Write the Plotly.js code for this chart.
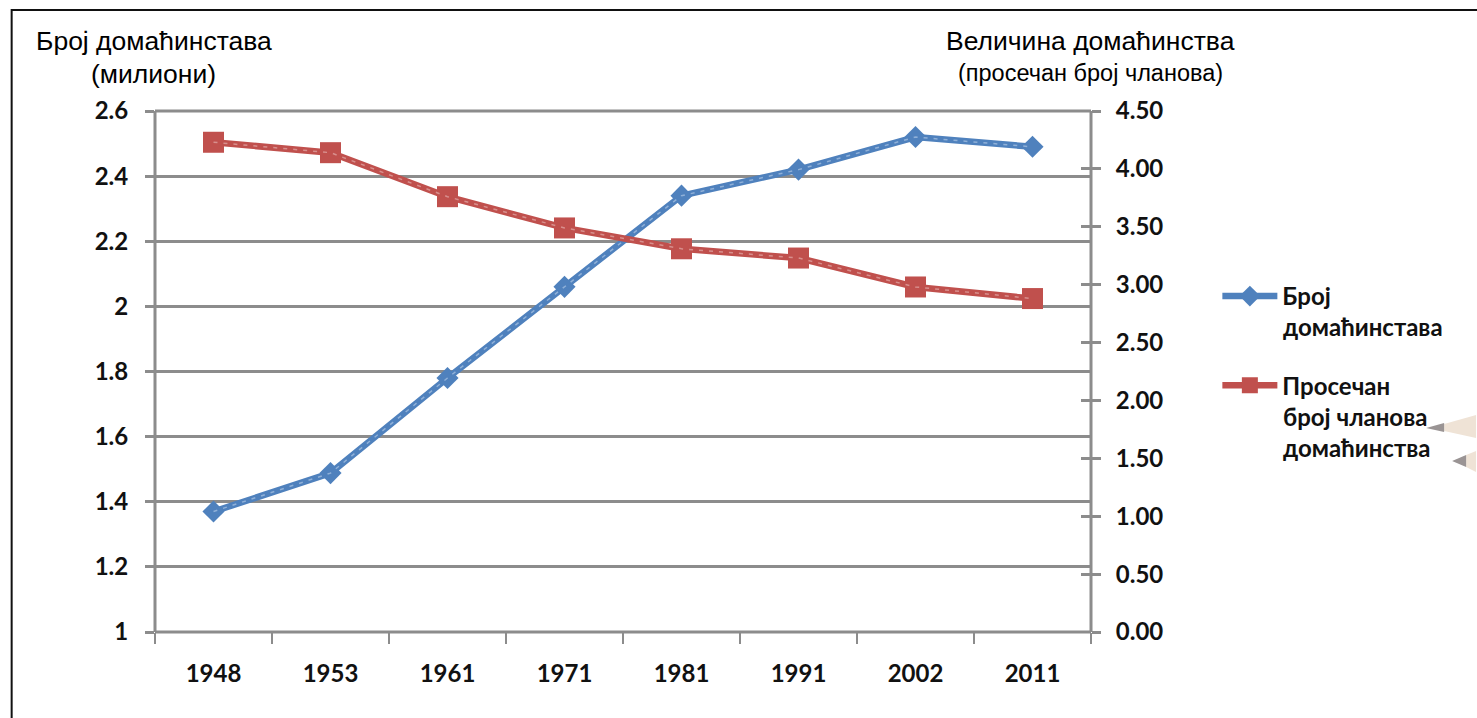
<!DOCTYPE html>
<html>
<head>
<meta charset="utf-8">
<script src="https://cdn.plot.ly/plotly-3.0.1.min.js"></script>
<style>html,body{margin:0;padding:0;background:#fff;overflow:hidden}#chart{width:1477px;height:718px}</style>
</head>
<body>
<div id="chart"></div>
<script>
const years = ['1948','1953','1961','1971','1981','1991','2002','2011'];
const households = [1.37,1.488,1.78,2.06,2.34,2.42,2.52,2.49];
const householdSize = [4.23,4.14,3.76,3.49,3.31,3.23,2.98,2.88];
const nameHouseholds = 'Број';
const nameHouseholdsRest = 'домаћинстава';
const nameSize = 'Просечан';
const nameSizeRest = 'број чланова<br>домаћинства';
const leftTicks = [1,1.2,1.4,1.6,1.8,2,2.2,2.4,2.6];
const leftTickText = ['1','1.2','1.4','1.6','1.8','2','2.2','2.4','2.6'];
const rightTicks = [0,0.5,1,1.5,2,2.5,3,3.5,4,4.5];
const rightTickText = ['0.00','0.50','1.00','1.50','2.00','2.50','3.00','3.50','4.00','4.50'];

const BLUE='#4f81bd', RED='#c0504d', GREY='#8c8c8c';
const tickFont={family:'Lato, "Open Sans", sans-serif',size:24,color:'#111',weight:700};
const legendFont={family:'Lato, "Open Sans", sans-serif',size:24,color:'#111',weight:700};

const traces=[
 {x:years,y:households,name:nameHouseholds,legendgroup:'a',type:'scatter',mode:'lines+markers',xaxis:'x',yaxis:'y',
  line:{color:BLUE,width:6.5},marker:{symbol:'diamond',size:17,color:BLUE}},
 {x:years,y:householdSize,name:nameSize,legendgroup:'b',type:'scatter',mode:'lines+markers',xaxis:'x',yaxis:'y2',
  line:{color:RED,width:6.5},marker:{symbol:'square',size:21,color:RED}},
 {x:years,y:households,type:'scatter',mode:'lines',showlegend:false,hoverinfo:'skip',xaxis:'x',yaxis:'y',
  line:{color:'#8fb0d8',width:1.5,dash:'4px 6px'}},
 {x:years,y:householdSize,type:'scatter',mode:'lines',showlegend:false,hoverinfo:'skip',xaxis:'x',yaxis:'y2',
  line:{color:'#d88f8d',width:1.5,dash:'4px 6px'}},
 {x:years,y:householdSize,type:'scatter',mode:'none',showlegend:false,hoverinfo:'skip',xaxis:'x',yaxis:'y3'}
];

const W=1477,H=718,L=154.5,R=1091.5,T=111,B=632;
const px=v=>(v-L)/(R-L), py=v=>(B-v)/(B-T);
const note=(text,x,y,size)=>({text,xref:'paper',yref:'paper',x:px(x),y:py(y),xanchor:'center',yanchor:'middle',showarrow:false,
  font:{family:'"Liberation Sans", Arial, sans-serif',size,color:'#000'}});
const legendNote=(text,y)=>({text,xref:'paper',yref:'paper',x:px(1283),y:py(y),xanchor:'left',yanchor:'top',align:'left',showarrow:false,
  font:legendFont,borderpad:0});
const poly=(pts,fill)=>({type:'path',xref:'paper',yref:'paper',layer:'below',fillcolor:fill,line:{width:0},
  path:'M'+pts.map(p=>px(p[0])+','+py(p[1])).join('L')+'Z'});
const vline=x=>({type:'line',xref:'paper',yref:'paper',x0:x,x1:x,y0:0,y1:1,layer:'below',line:{color:GREY,width:3}});
const hline=y=>({type:'line',xref:'paper',yref:'paper',x0:0,x1:1,y0:y,y1:y,layer:'below',line:{color:GREY,width:3}});

const layout={
 width:W,height:H,paper_bgcolor:'#fff',plot_bgcolor:'rgba(0,0,0,0)',
 margin:{l:L,r:W-R,t:T,b:H-B,pad:0},
 showlegend:true,
 legend:{x:px(1218),y:py(274),xanchor:'left',yanchor:'top',bgcolor:'rgba(0,0,0,0)',
  font:legendFont,tracegroupgap:55,itemwidth:55,traceorder:'grouped'},
 xaxis:{type:'category',range:[-0.5,7.5],showgrid:false,zeroline:false,showline:false,
  ticks:'outside',ticklen:11,tickwidth:2,tickcolor:GREY,tickfont:tickFont,tickson:'boundaries',ticklabelstandoff:25},
 yaxis:{range:[1,2.6],tickmode:'array',tickvals:leftTicks,ticktext:leftTickText,
  showgrid:true,gridcolor:GREY,gridwidth:3,zeroline:false,showline:false,
  ticks:'outside',ticklen:9,tickwidth:3,tickcolor:GREY,tickfont:tickFont,ticklabelstandoff:12},
 yaxis2:{range:[0,4.5],overlaying:'y',side:'right',tickmode:'array',tickvals:rightTicks,ticktext:rightTickText,
  showgrid:false,zeroline:false,showline:false,
  ticks:'outside',ticklen:9,tickwidth:3,tickcolor:GREY,tickfont:tickFont,ticklabelstandoff:10},
 yaxis3:{range:[0,4.5],overlaying:'y',side:'right',tickmode:'array',tickvals:rightTicks,showticklabels:false,
  showgrid:false,zeroline:false,showline:false,ticks:'inside',ticklen:10,tickwidth:3,tickcolor:GREY},
 shapes:[
  vline(0),vline(1),hline(0),hline(1),
  {type:'rect',xref:'paper',yref:'paper',x0:px(11),x1:px(1490),y0:py(10),y1:py(730),line:{color:'#111',width:2},fillcolor:'rgba(0,0,0,0)'},
  poly([[1445,424],[1477,415],[1477,438],[1445,431]],'#efe3d6'),
  poly([[1427,428],[1445,423],[1445,432]],'#9a9494'),
  poly([[1467,455],[1477,451],[1477,472],[1467,467]],'#efe3d6'),
  poly([[1453,461],[1467,455],[1467,467]],'#9a9494')
 ],
 annotations:[
  note('Број домаћинстава',153,41,26.5),
  note('(милиони)',153,74,26.5),
  note('Величина домаћинства',1091,41,26.5),
  note('(просечан број чланова)',1091,73,23.5),
  legendNote(nameHouseholdsRest,311),
  legendNote(nameSizeRest,401)
 ]
};
Plotly.newPlot('chart',traces,layout,{displayModeBar:false,staticPlot:true});
</script>
</body>
</html>
